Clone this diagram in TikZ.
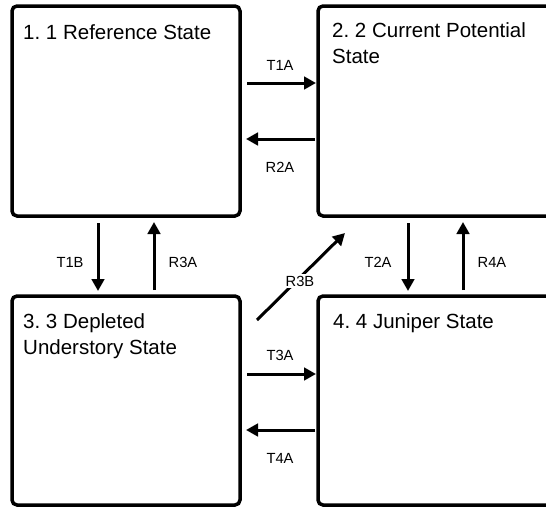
\documentclass[tikz,border=0pt]{standalone}
\usepackage{fontspec}
\setmainfont{Liberation Sans}
\frenchspacing
\usetikzlibrary{arrows.meta}
\tikzset{
  statebox/.style={draw=black, line width=3.5pt, rounded corners=5pt, inner sep=0pt},
  title/.style={anchor=north west, inner sep=0pt, align=left, font=\fontsize{20.5}{26}\selectfont},
  lbl/.style={inner sep=0pt, font=\fontsize{14.7}{17}\selectfont},
  arr/.style={line width=3pt, -{Triangle[length=12pt,width=12.5pt]}},
}
\begin{document}
\begin{tikzpicture}[x=1pt,y=-1pt]
\clip (0,0) rectangle (546,506);
% boxes
\node[statebox, minimum width=228pt, minimum height=210pt] (b1) at (126,111) {};
\node[statebox, minimum width=252pt, minimum height=210pt] (b2) at (444,111) {};
\node[statebox, minimum width=228pt, minimum height=209pt] (b3) at (126,400.5) {};
\node[statebox, minimum width=252pt, minimum height=209pt] (b4) at (444,400.5) {};
% titles
\node[title] (t1) at (23,24) {1. 1 Reference State};
\node[title] (t2) at (332,22) {2. 2 Current Potential\\State};
\node[title] (t3) at (23,313) {3. 3 Depleted\\Understory State};
\node[title] (t4) at (333,313) {4. 4 Juniper State};
% arrow end points
\coordinate (a1s) at (247,83);  \coordinate (a1e) at (316,83);
\coordinate (a2s) at (315,139); \coordinate (a2e) at (246,139);
\coordinate (a3s) at (98,223);  \coordinate (a3e) at (98,291);
\coordinate (a4s) at (154,290); \coordinate (a4e) at (154,222);
\coordinate (a5s) at (408,223); \coordinate (a5e) at (408,291);
\coordinate (a6s) at (463,290); \coordinate (a6e) at (463,222);
\coordinate (a7s) at (257,320); \coordinate (a7e) at (345,233);
\coordinate (a8s) at (247,374); \coordinate (a8e) at (316,374);
\coordinate (a9s) at (315,430); \coordinate (a9e) at (246,430);
% arrows
\draw[arr] (a1s) -- (a1e);
\draw[arr] (a2s) -- (a2e);
\draw[arr] (a3s) -- (a3e);
\draw[arr] (a4s) -- (a4e);
\draw[arr] (a5s) -- (a5e);
\draw[arr] (a6s) -- (a6e);
\draw[arr] (a7s) -- (a7e);
\draw[arr] (a8s) -- (a8e);
\draw[arr] (a9s) -- (a9e);
% labels
\node[lbl] (l1) at (280,65) {T1A};
\node[lbl] (l2) at (280,167) {R2A};
\node[lbl] (l3) at (70,262) {T1B};
\node[lbl] (l4) at (183,262) {R3A};
\node[lbl] (l5) at (378,262) {T2A};
\node[lbl] (l6) at (492,262) {R4A};
\node[lbl, fill=white, inner sep=2pt] (l7) at (300,281) {R3B};
\node[lbl] (l8) at (280,355) {T3A};
\node[lbl] (l9) at (280,458) {T4A};
\end{tikzpicture}
\end{document}
